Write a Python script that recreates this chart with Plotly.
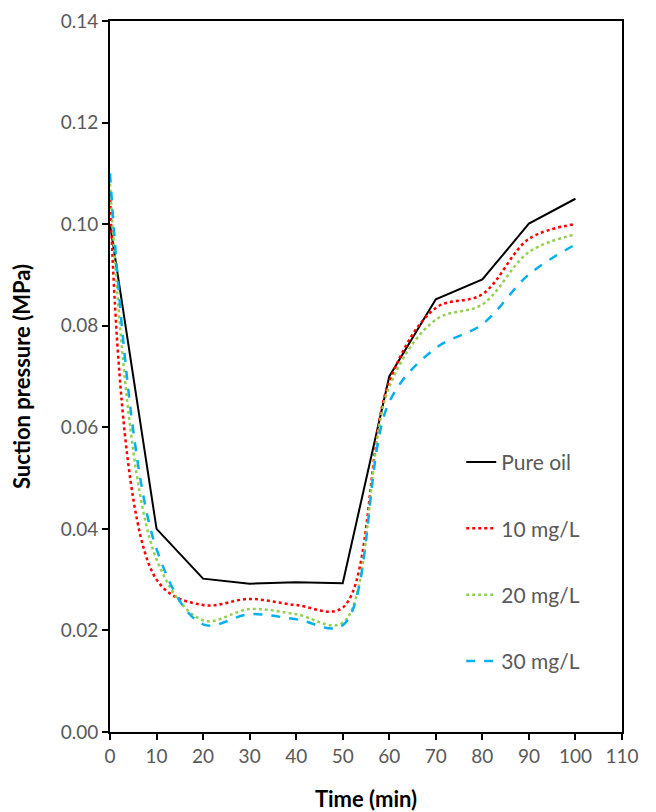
import plotly.graph_objects as go

time_min = [0, 10, 20, 30, 40, 50, 60, 70, 80, 90, 100]
pure_oil = [0.100, 0.040, 0.0302, 0.0292, 0.0295, 0.0293, 0.070, 0.0852, 0.0891, 0.1001, 0.105]
mg10 = [0.106, 0.030, 0.0250, 0.0262, 0.0250, 0.0245, 0.0690, 0.0835, 0.0862, 0.0971, 0.1000]
mg20 = [0.108, 0.034, 0.0220, 0.0242, 0.0232, 0.0215, 0.0680, 0.0812, 0.0842, 0.0945, 0.0980]
mg30 = [0.110, 0.036, 0.0212, 0.0232, 0.0222, 0.0210, 0.0650, 0.0756, 0.0803, 0.0901, 0.0960]

series_names = ["Pure oil", "10 mg/L", "20 mg/L", "30 mg/L"]

fig = go.Figure()
fig.add_trace(go.Scatter(x=time_min, y=pure_oil, name=series_names[0], mode="lines",
                         line=dict(color="black", width=2), legendgroup="a"))
fig.add_trace(go.Scatter(x=time_min, y=mg10, name=series_names[1], mode="lines",
                         line=dict(color="#ff0000", width=2.5, dash="dot", shape="spline", smoothing=1.0),
                         legendgroup="b"))
fig.add_trace(go.Scatter(x=time_min, y=mg20, name=series_names[2], mode="lines",
                         line=dict(color="#92d050", width=2.5, dash="dot", shape="spline", smoothing=1.0),
                         legendgroup="c"))
fig.add_trace(go.Scatter(x=time_min, y=mg30, name=series_names[3], mode="lines",
                         line=dict(color="#00b0f0", width=2.5, dash="dash", shape="spline", smoothing=1.0),
                         legendgroup="d"))

tick_font = dict(family="Lato, 'Open Sans', sans-serif", size=19, color="#595959")
title_font = dict(family="Lato, 'Open Sans', sans-serif", size=22, color="black")

fig.update_layout(
    width=648, height=804,
    margin=dict(l=102, r=34, t=13, b=80),
    paper_bgcolor="white", plot_bgcolor="white",
    showlegend=True,
    legend=dict(x=0.686, y=0.408, xanchor="left", yanchor="top",
                traceorder="grouped", tracegroupgap=36,
                font=dict(family="Lato, 'Open Sans', sans-serif", size=21, color="#595959"),
                bgcolor="rgba(0,0,0,0)"),
    xaxis=dict(range=[0, 110], dtick=10, tick0=0, showgrid=False, zeroline=False,
               showline=True, linecolor="black", linewidth=2, mirror=True,
               ticks="outside", ticklen=6, tickcolor="black", tickwidth=1.5,
               tickfont=tick_font, automargin=False, ticklabeloverflow="allow",
               title=dict(text="<b>Time (min)</b>", font=title_font, standoff=27)),
    yaxis=dict(range=[0, 0.14], dtick=0.02, tick0=0, tickformat=".2f", showgrid=False, zeroline=False,
               showline=True, linecolor="black", linewidth=2, mirror=True,
               ticks="outside", ticklen=6, tickcolor="black", tickwidth=1.5,
               tickfont=tick_font, automargin=False, ticklabeloverflow="allow",
               title=dict(text="<b>Suction pressure (MPa)</b>", font=title_font, standoff=24)),
)

fig.write_html("out.html")
